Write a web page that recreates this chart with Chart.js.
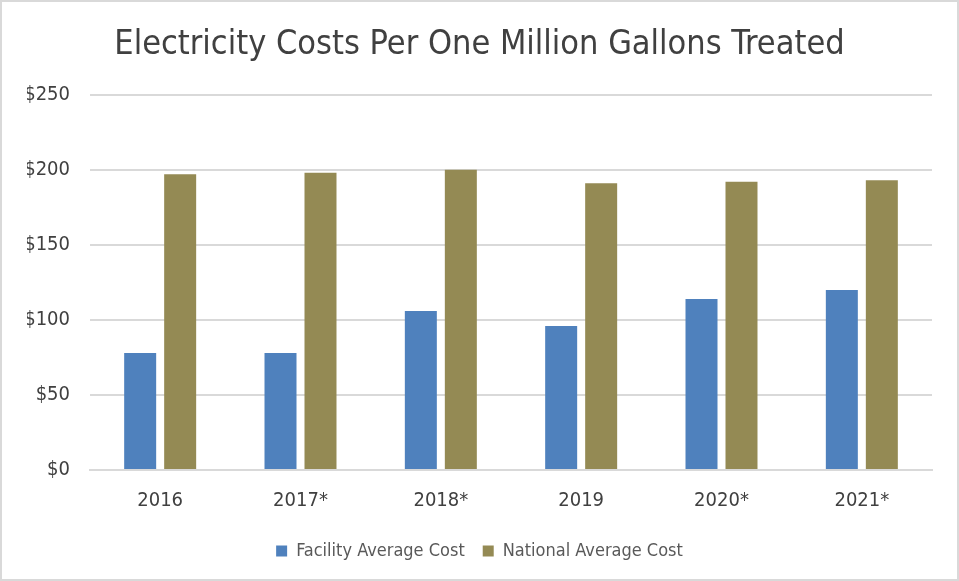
<!DOCTYPE html>
<html>
<head>
<meta charset="utf-8">
<script src="https://cdn.jsdelivr.net/npm/chart.js@4"></script>
<style>
  body { margin: 0; background: #fff; }
  #wrap { width: 955px; height: 577px; border: 2px solid #d9d9d9; }
</style>
</head>
<body>
<div id="wrap"><canvas id="chart" width="955" height="577"></canvas></div>
<script>
var years = ['2016', '2017*', '2018*', '2019', '2020*', '2021*'];
var facilityCost = [78, 78, 106, 96, 114, 120];
var nationalCost = [197, 198, 200, 191, 192, 193];
var yTicks = [0, 50, 100, 150, 200, 250];

var font = "'Liberation Sans Narrow', 'DejaVu Sans Condensed', 'Open Sans', sans-serif";

var ctx = document.getElementById('chart');
var myChart = new Chart(ctx, {
  type: 'bar',
  data: {
    labels: years,
    datasets: [{
        label: 'Facility Average Cost',
        data: facilityCost,
        backgroundColor: '#4f81bd',
        barPercentage: 0.8,
        categoryPercentage: 0.57
      }, {
        label: 'National Average Cost',
        data: nationalCost,
        backgroundColor: '#948a54',
        barPercentage: 0.8,
        categoryPercentage: 0.57
      }
    ]
  },
  options: {
    responsive: false,
    animation: false,
    layout: { padding: { left: 25, right: 25, top: 0, bottom: 9 } },
    plugins: {
      title: {
        display: true,
        text: 'Electricity Costs Per One Million Gallons Treated',
        color: '#404040',
        font: { family: font, size: 34, weight: 'normal' },
        padding: { top: 23, bottom: 29 }
      },
      legend: {
        position: 'bottom',
        labels: {
          color: '#595959',
          font: { family: font, size: 18 },
          boxWidth: 11,
          boxHeight: 11,
          padding: 18
        }
      },
      tooltip: { enabled: false }
    },
    scales: {
      x: {
        grid: { display: false },
        border: { color: '#d9d9d9', width: 2 },
        ticks: { color: '#404040', font: { family: font, size: 20 }, padding: 11 }
      },
      y: {
        min: 0,
        max: 250,
        afterFit: function(scale) { scale.width = 63; },
        afterBuildTicks: function(scale) {
          scale.ticks = yTicks.map(function(v) { return { value: v }; });
        },
        grid: { color: '#d9d9d9', lineWidth: 2, drawTicks: false },
        border: { display: false },
        ticks: {
          color: '#404040',
          font: { family: font, size: 20 },
          padding: 20,
          callback: function(v) { return '$' + v; }
        }
      }
    }
  }
});
</script>
</body>
</html>
